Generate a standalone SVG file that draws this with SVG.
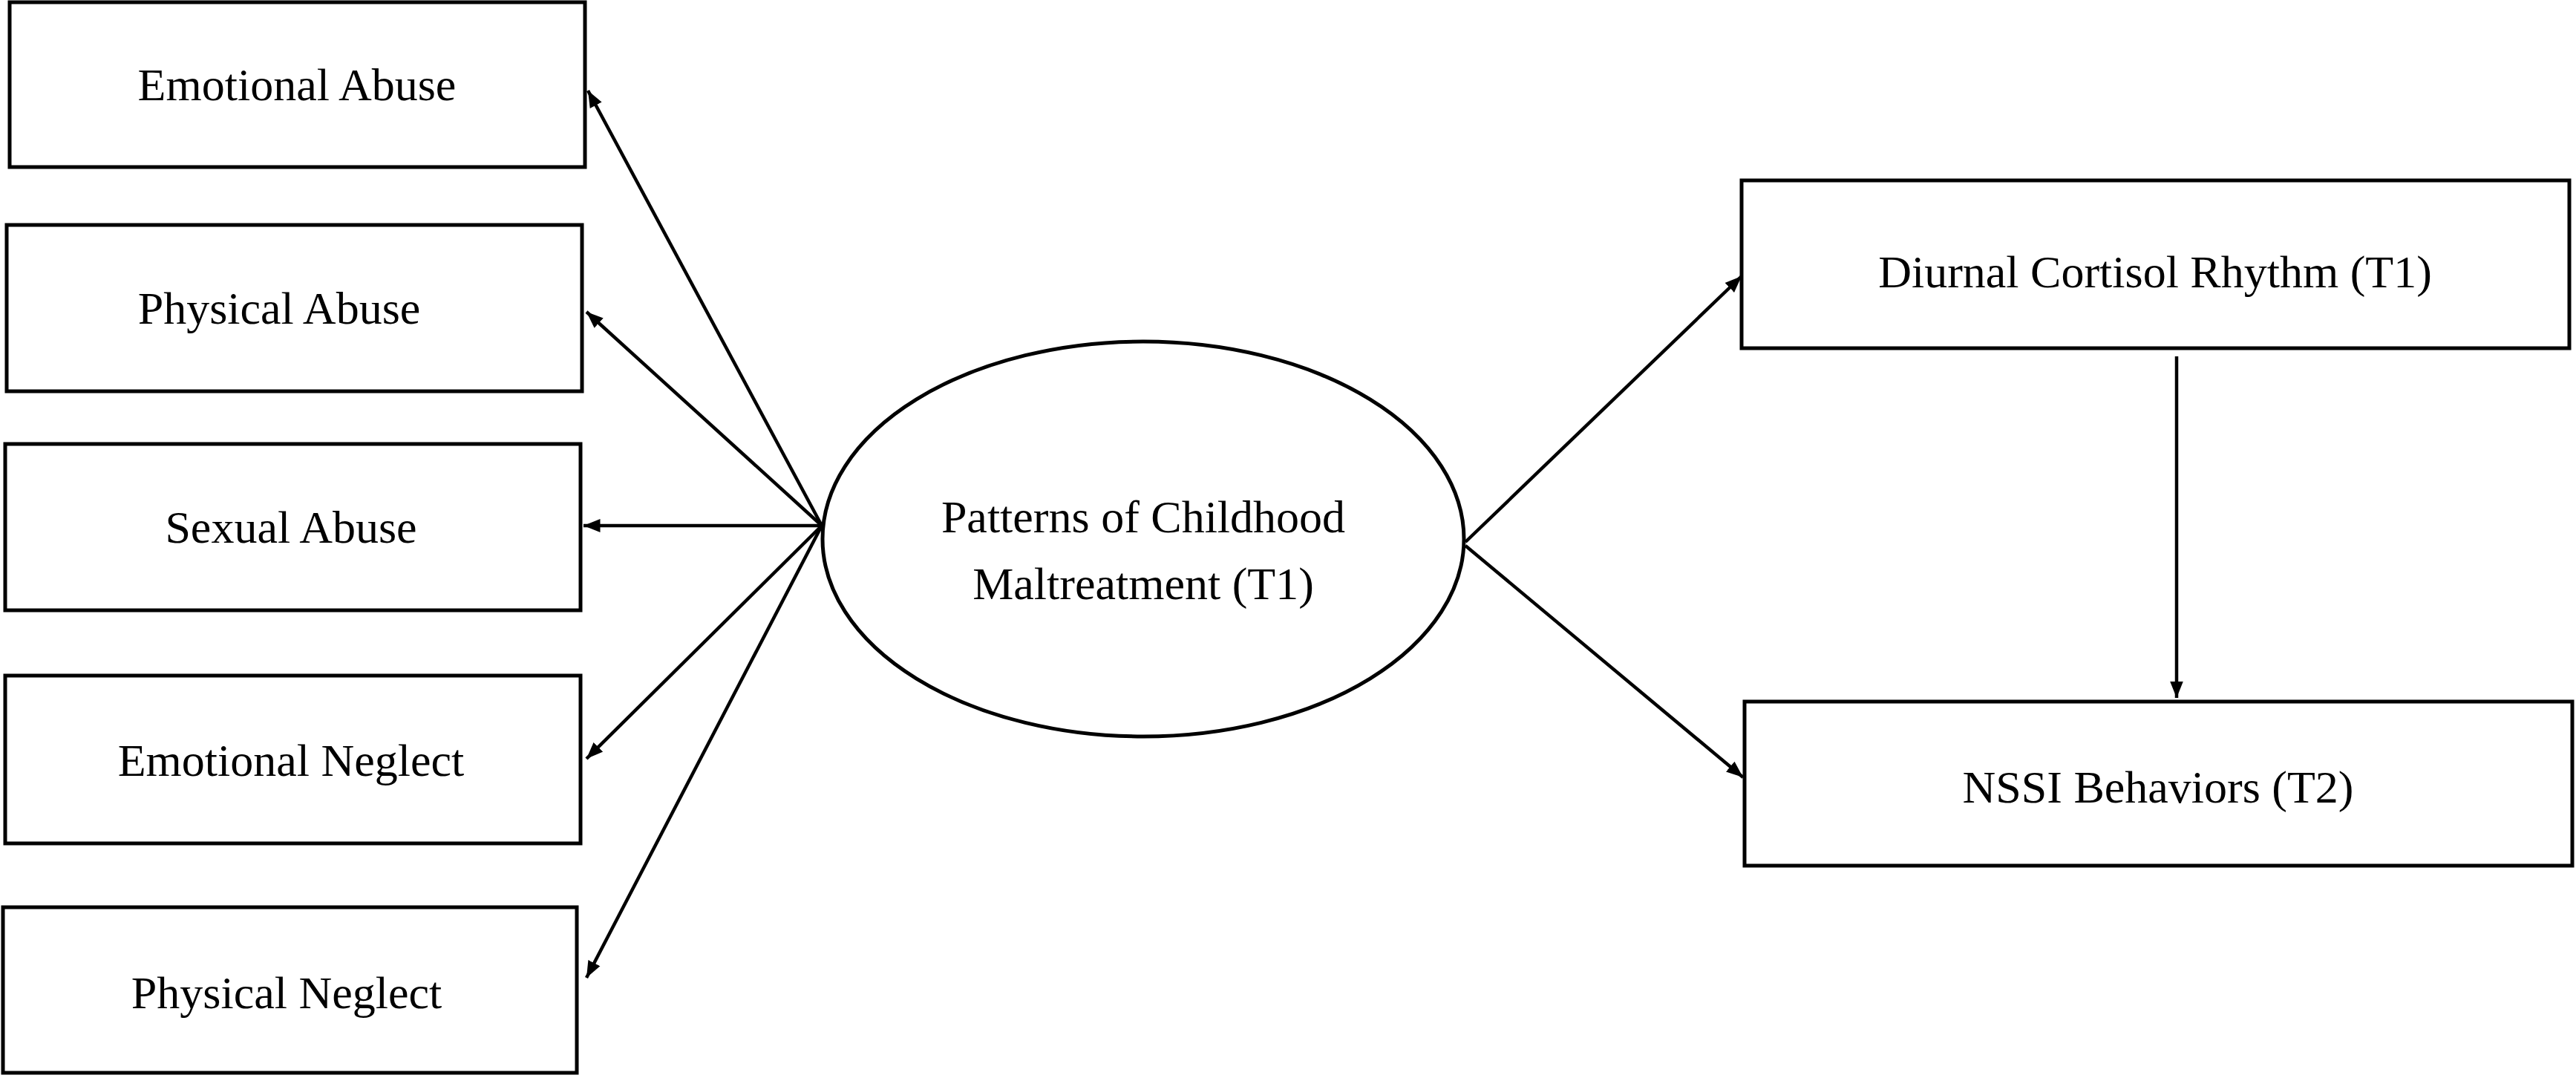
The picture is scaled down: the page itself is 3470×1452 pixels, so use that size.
<svg xmlns="http://www.w3.org/2000/svg" width="3470" height="1452" viewBox="0 0 3470 1452">
<style>
.b{fill:#fff;stroke:#000;stroke-width:5}
.t{font-family:"Liberation Serif",serif;font-size:62px;text-anchor:middle;dominant-baseline:central;fill:#000}
.c{stroke:#000;stroke-width:4.5;fill:none;marker-end:url(#a)}
</style>
<defs><marker id="a" viewBox="0 0 10 10" refX="10" refY="5" markerWidth="5" markerHeight="5" orient="auto" markerUnits="strokeWidth"><path d="M0,1 L10,5 L0,9 z" fill="#000"/></marker></defs>
<rect width="3470" height="1452" fill="#fff"/>
<g id="ea"><rect class="b" x="13" y="3" width="775" height="222"/><text class="t" x="400" y="114">Emotional Abuse</text></g>
<g id="pa"><rect class="b" x="9" y="303" width="775" height="224"/><text class="t" x="376" y="415">Physical Abuse</text></g>
<g id="sa"><rect class="b" x="7" y="598" width="775" height="224"/><text class="t" x="392" y="710">Sexual Abuse</text></g>
<g id="en"><rect class="b" x="7" y="910" width="775" height="226"/><text class="t" x="392" y="1024">Emotional Neglect</text></g>
<g id="pn"><rect class="b" x="4" y="1222" width="773" height="223"/><text class="t" x="386" y="1337">Physical Neglect</text></g>
<g id="pcm"><ellipse class="b" cx="1540" cy="726" rx="432" ry="266"/><text class="t" x="1540" y="696">Patterns of Childhood</text><text class="t" x="1540" y="786">Maltreatment (T1)</text></g>
<g id="dcr"><rect class="b" x="2346" y="243" width="1115" height="226"/><text class="t" x="2903" y="366">Diurnal Cortisol Rhythm (T1)</text></g>
<g id="nssi"><rect class="b" x="2350" y="945" width="1115" height="221"/><text class="t" x="2907" y="1060">NSSI Behaviors (T2)</text></g>
<g id="connectors">
<line class="c" x1="1107" y1="708" x2="792" y2="122"/>
<line class="c" x1="1107" y1="708" x2="790" y2="420"/>
<line class="c" x1="1107" y1="708" x2="786" y2="708"/>
<line class="c" x1="1107" y1="708" x2="790" y2="1022"/>
<line class="c" x1="1107" y1="708" x2="790" y2="1317"/>
<line class="c" x1="1974" y1="730" x2="2346" y2="372"/>
<line class="c" x1="1974" y1="735" x2="2348" y2="1047"/>
<line class="c" x1="2932" y1="480" x2="2932" y2="940"/>
</g>
</svg>
